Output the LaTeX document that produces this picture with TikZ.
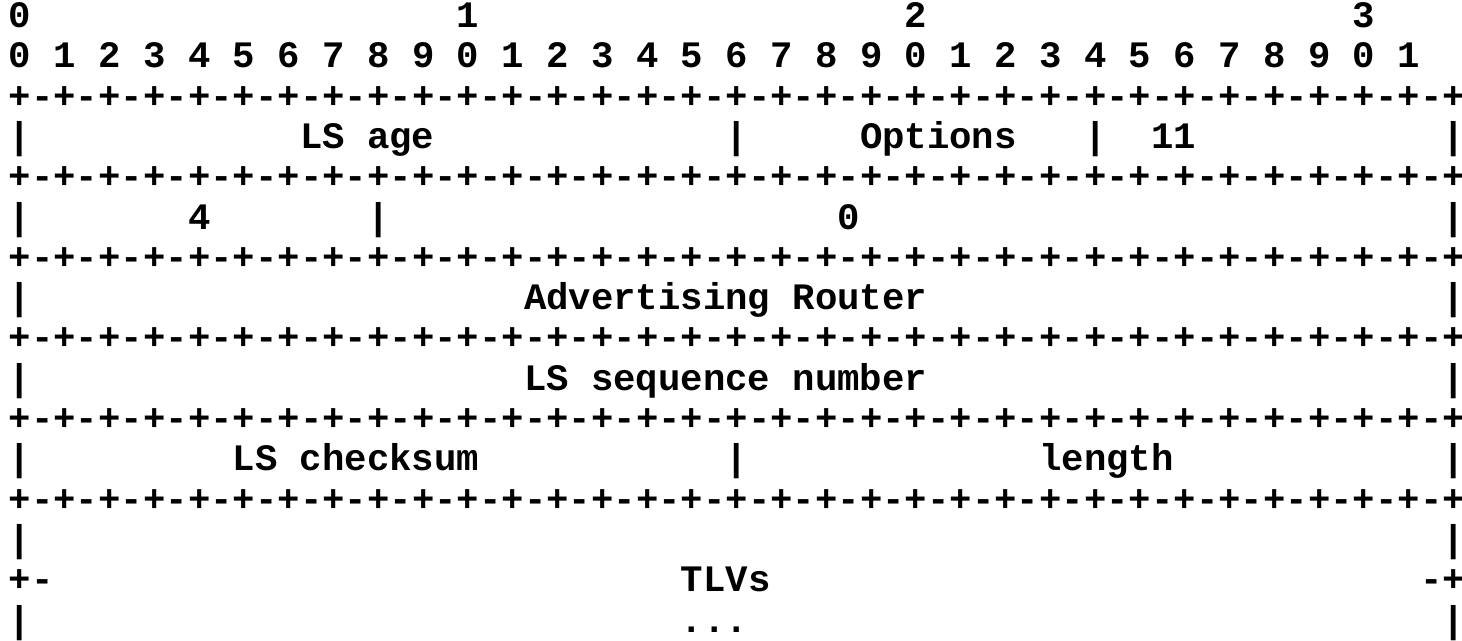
\documentclass[tikz,border=0pt]{standalone}
\usepackage{fontspec}
\setmonofont{Liberation Mono}
\usepackage{tikz}
\usetikzlibrary{
  positioning,
}
\tikzset{
  ascii/.style={
    anchor=base west,
    inner sep=0pt,
    outer sep=0pt,
    font=\fontsize{37.33}{40}\selectfont\ttfamily\bfseries,
  },
}

\begin{document}
\begin{tikzpicture}[x=22.4pt, y=-40.3pt]

        \fill [white] (-8.8pt,27.5pt) rectangle (1453.2pt,-612.5pt);
        \useasboundingbox (-8.8pt,27.5pt) rectangle (1453.2pt,-612.5pt);

        % bit numbers
        \foreach \d [count=\k from 0] in {0,1,2,3} {
          \node [ascii] (tens\k) at (20*\k, 0) {\d};
        }
        \foreach \i in {0,...,31} {
          \pgfmathtruncatemacro{\d}{mod(\i,10)}
          \node [ascii] (bit\i) at (2*\i, 1) {\d};
        }

        % rules
        \foreach \r in {2,4,6,8,10,12} {
          \foreach \i in {0,...,31} {
            \node [ascii] (rule\r-\i) at (2*\i, \r) {+-};
          }
          \node [ascii] (rule\r-end) at (64, \r) {+};
        }
        \node [ascii] (tlvleft) at (0, 14) {+-};
        \node [ascii] (tlvright) at (63, 14) {-+};

        % field walls
        \foreach \r/\cols in {3/{0,32,48,64}, 5/{0,16,64}, 7/{0,64}, 9/{0,64},
                              11/{0,32,64}, 13/{0,64}, 15/{0,64}} {
          \foreach \c in \cols {
            \node [ascii] (wall\r-\c) at (\c, \r) {|};
          }
        }

        % field names
        \node [ascii] (lsage) at (13, 3) {LS age};
        \node [ascii] (options) at (38, 3) {Options};
        \node [ascii] (lstype) at (51, 3) {11};
        \node [ascii] (opaquetype) at (8, 5) {4};
        \node [ascii] (opaqueid) at (37, 5) {0};
        \node [ascii] (advrouter) at (23, 7) {Advertising Router};
        \node [ascii] (lsseq) at (23, 9) {LS sequence number};
        \node [ascii] (checksum) at (10, 11) {LS checksum};
        \node [ascii] (length) at (46, 11) {length};
        \node [ascii] (tlvs) at (30, 14) {TLVs};
        \node [ascii] (more) at (30, 15) {...};
      \end{tikzpicture}
\end{document}
